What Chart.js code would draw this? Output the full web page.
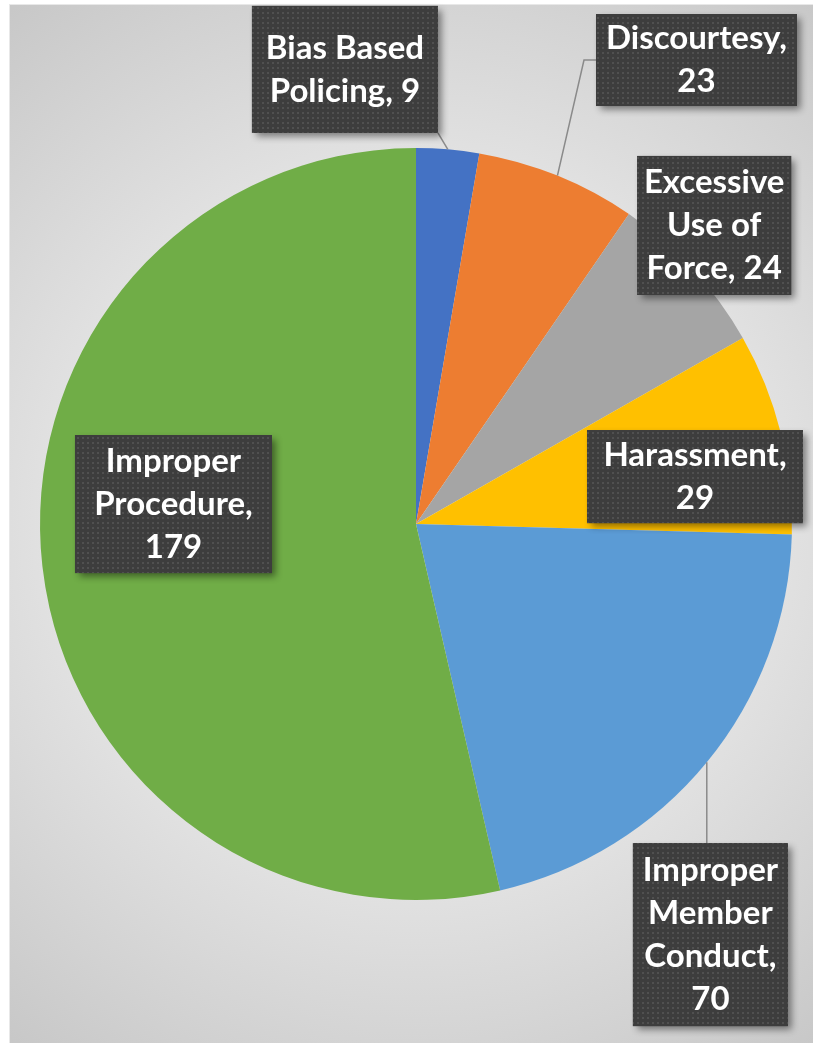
<!DOCTYPE html>
<html>
<head>
<meta charset="utf-8">
<script src="https://cdn.jsdelivr.net/npm/chart.js@4.4.1/dist/chart.umd.min.js"></script>
<style>
  html, body { margin: 0; padding: 0; background: #fff; }
  #wrap { position: relative; width: 813px; height: 1043px; }
</style>
</head>
<body>
<div id="wrap"><canvas id="pieChart"></canvas></div>
<script>
// Complaint categories and counts
const categories = ['Bias Based Policing', 'Discourtesy', 'Excessive Use of Force',
                    'Harassment', 'Improper Member Conduct', 'Improper Procedure'];
const counts = [9, 23, 24, 29, 70, 179];
const sliceColors = ['#4472C4', '#ED7D31', '#A5A5A5', '#FFC000', '#5B9BD5', '#70AD47'];

// Label box placement, relative to pie centre in units of radius
const labelLayout = [
    { dx: -0.189, dy: -1.209, w: 186, h: 127, leader: 'nearest' },
    { dx: 0.746, dy: -1.234, w: 201, h: 92, leader: 'elbow' },
    { dx: 0.793, dy: -0.794, w: 154, h: 139, leader: 'none' },
    { dx: 0.742, dy: -0.126, w: 216, h: 93, leader: 'none' },
    { dx: 0.783, dy: 1.092, w: 155, h: 183, leader: 'nearest' },
    { dx: -0.645, dy: -0.053, w: 197, h: 138, leader: 'none' }
];

const FONT = 'bold 33px Lato';
const LINE_H = 43;

// dotted fill for label boxes
function makePattern(ctx) {
    const c = document.createElement('canvas');
    c.width = 5; c.height = 5;
    const p = c.getContext('2d');
    p.fillStyle = '#3d3d3d';
    p.fillRect(0, 0, 5, 5);
    p.fillStyle = '#505050';
    p.fillRect(2, 2, 2, 2);
    return ctx.createPattern(c, 'repeat');
}

function wrapText(ctx, text, maxW) {
    const words = text.split(' ');
    const lines = [];
    let cur = '';
    words.forEach(w => {
        const test = cur ? cur + ' ' + w : w;
        if (cur && ctx.measureText(test).width > maxW) {
            lines.push(cur);
            cur = w;
        } else {
            cur = test;
        }
    });
    if (cur) lines.push(cur);
    return lines;
}

const backgroundPlugin = {
    id: 'bg',
    beforeDraw(chart) {
        const ctx = chart.ctx;
        const w = chart.width, h = chart.height;
        ctx.save();
        ctx.fillStyle = '#ffffff';
        ctx.fillRect(0, 0, w, h);
        const a = chart.chartArea;
        const cx = (a.left + a.right) / 2, cy = (a.top + a.bottom) / 2;
        const g = ctx.createRadialGradient(cx, cy, 0, cx, cy, 700);
        g.addColorStop(0, '#f4f4f4');
        g.addColorStop(0.45, '#e6e6e6');
        g.addColorStop(1, '#c4c4c4');
        ctx.fillStyle = g;
        ctx.fillRect(9, 4, w - 9, h - 4);
        ctx.strokeStyle = '#e8e8e8';
        ctx.lineWidth = 1;
        ctx.strokeRect(9.5, 4.5, w - 9, h - 4);
        ctx.restore();
    }
};

const labelPlugin = {
    id: 'boxLabels',
    afterDatasetsDraw(chart) {
        const ctx = chart.ctx;
        const meta = chart.getDatasetMeta(0);
        const pattern = makePattern(ctx);
        ctx.save();
        ctx.font = FONT;
        meta.data.forEach((arc, i) => {
            const p = arc.getProps(['x', 'y', 'outerRadius', 'startAngle', 'endAngle'], true);
            const R = p.outerRadius;
            const mid = (p.startAngle + p.endAngle) / 2;
            const ax = p.x + R * Math.cos(mid);
            const ay = p.y + R * Math.sin(mid);
            const L = labelLayout[i];
            const bx = p.x + L.dx * R - L.w / 2;
            const by = p.y + L.dy * R - L.h / 2;

            // leader line
            ctx.strokeStyle = '#8a8a8a';
            ctx.lineWidth = 1.5;
            if (L.leader === 'nearest') {
                const ex = Math.min(Math.max(ax, bx), bx + L.w);
                const ey = Math.min(Math.max(ay, by), by + L.h);
                ctx.beginPath();
                ctx.moveTo(ax, ay);
                ctx.lineTo(ex, ey);
                ctx.stroke();
            } else if (L.leader === 'elbow') {
                const ey = by + L.h / 2;
                ctx.beginPath();
                ctx.moveTo(ax, ay);
                ctx.lineTo(bx - 12, ey);
                ctx.lineTo(bx, ey);
                ctx.stroke();
            }

            // box with shadow
            ctx.save();
            ctx.shadowColor = 'rgba(0,0,0,0.45)';
            ctx.shadowBlur = 7;
            ctx.shadowOffsetX = 4;
            ctx.shadowOffsetY = 4;
            ctx.fillStyle = '#3d3d3d';
            ctx.fillRect(bx, by, L.w, L.h);
            ctx.restore();
            ctx.fillStyle = pattern;
            ctx.fillRect(bx, by, L.w, L.h);

            // text
            const text = categories[i] + ', ' + counts[i];
            const lines = wrapText(ctx, text, L.w - 16);
            ctx.fillStyle = '#ffffff';
            ctx.textAlign = 'center';
            ctx.textBaseline = 'middle';
            const cy = by + L.h / 2;
            lines.forEach((ln, k) => {
                const ly = cy + (k - (lines.length - 1) / 2) * LINE_H;
                ctx.fillText(ln, bx + L.w / 2, ly);
            });
        });
        ctx.restore();
    }
};

new Chart(document.getElementById('pieChart').getContext('2d'), {
    type: 'pie',
    data: {
        labels: categories,
        datasets: [{
            data: counts,
            backgroundColor: sliceColors,
            borderWidth: 0
        }]
    },
    options: {
        responsive: true,
        maintainAspectRatio: false,
        animation: false,
        layout: {
            padding: { left: 40, right: 21, top: 148, bottom: 143 }
        },
        plugins: {
            legend: { display: false },
            tooltip: { enabled: false }
        }
    },
    plugins: [backgroundPlugin, labelPlugin]
});
</script>
</body>
</html>
